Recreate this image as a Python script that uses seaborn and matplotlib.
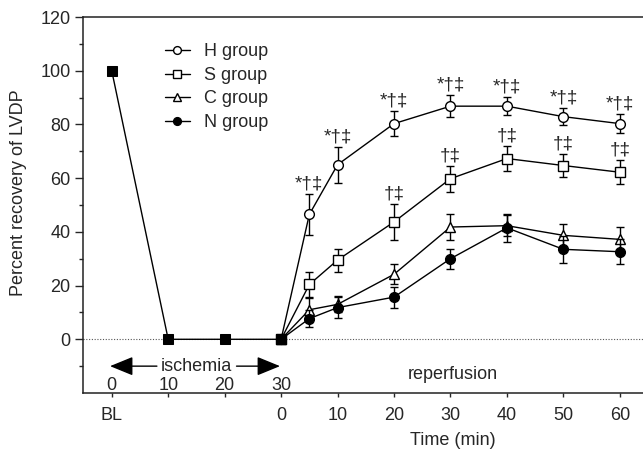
import numpy as np
import pandas as pd
import matplotlib
matplotlib.use('Agg')
import matplotlib.pyplot as plt
import seaborn as sns

# --- data ---
# baseline + ischemia phase (all groups identical)
base_time = [0, 10, 20, 30]            # BL, ischemia 10/20/30 min
base_vals = [100, 0, 0, 0]

# reperfusion phase, minutes after reperfusion
rep_time = [0, 5, 10, 20, 30, 40, 50, 60]

h_vals = [0, 46.5, 65.0, 80.3, 86.8, 86.8, 82.9, 80.3]
h_err = [0, 7.5, 6.7, 4.7, 4.2, 3.3, 3.2, 3.5]
s_vals = [0, 20.4, 29.5, 43.7, 59.8, 67.3, 64.7, 62.2]
s_err = [0, 4.5, 4.3, 6.6, 4.8, 4.5, 4.2, 4.5]
c_vals = [0, 11.0, 13.0, 24.2, 41.8, 42.3, 38.7, 37.2]
c_err = [0, 4.5, 3.0, 3.8, 4.7, 4.0, 4.4, 4.5]
n_vals = [0, 7.7, 11.8, 15.7, 30.0, 41.5, 33.5, 32.6]
n_err = [0, 3.2, 3.8, 3.9, 3.8, 5.2, 5.0, 4.7]

h_marks = ['', '*†‡', '*†‡', '*†‡', '*†‡', '*†‡', '*†‡', '*†‡']
s_marks = ['', '', '', '†‡', '†‡', '†‡', '†‡', '†‡']

isch_ticks = [0, 10, 20, 30]
rep_ticks = [0, 10, 20, 30, 40, 50, 60]

# --- style ---
sns.set_style('ticks')
plt.rcParams['font.family'] = ['Liberation Sans', 'DejaVu Sans']
plt.rcParams['font.size'] = 13

fig = plt.figure(figsize=(6.43, 4.51), dpi=100)
ax = fig.add_axes([0.129, 0.1286, 0.871, 0.8337])

ISCH_END = 30  # reperfusion 0 == ischemia 30 on the shared axis
rep_x = [ISCH_END + t for t in rep_time]

ax.axhline(0, color='#555555', lw=0.8, ls=(0, (1, 1.5)), zorder=0)

groups = [
    ('H group', h_vals, h_err, 'o', 'white'),
    ('S group', s_vals, s_err, 's', 'white'),
    ('C group', c_vals, c_err, '^', 'white'),
    ('N group', n_vals, n_err, 'o', 'black'),
]

for i, (name, vals, err, mk, fc) in enumerate(groups):
    ax.errorbar(rep_x[1:], vals[1:], yerr=err[1:], fmt='none', ecolor='black',
                elinewidth=1, capsize=3, capthick=1, zorder=2 + i)
    sns.lineplot(x=rep_x, y=vals, ax=ax, color='black', lw=1, marker=mk,
                 markersize=7 if mk != '^' else 7.5, markerfacecolor=fc,
                 markeredgecolor='black', markeredgewidth=1, label=name,
                 zorder=3 + i)

sns.lineplot(x=base_time, y=base_vals, ax=ax, color='black', lw=1, marker='s',
             markersize=6.5, markerfacecolor='black', markeredgecolor='black',
             zorder=10, legend=False)

# significance marks
for x, v, e, m in zip(rep_x, h_vals, h_err, h_marks):
    if m:
        ax.text(x, v + e + 0.6, m, ha='center', va='bottom', fontsize=13.5)
for x, v, e, m in zip(rep_x, s_vals, s_err, s_marks):
    if m:
        ax.text(x, v + e + 0.6, m, ha='center', va='bottom', fontsize=13.5)

# ischemia arrow and inner labels
arrow_kw = dict(arrowstyle='-|>,head_length=1.1,head_width=0.45', color='black', lw=1,
                shrinkA=0, shrinkB=0)
ax.annotate('', xy=(-0.3, -10), xytext=(8.0, -10), arrowprops=arrow_kw)
ax.annotate('', xy=(29.8, -10), xytext=(22.1, -10), arrowprops=arrow_kw)
ax.text(15, -10, 'ischemia', ha='center', va='center')
for t in isch_ticks:
    ax.text(t, -17.3, str(t), ha='center', va='center')
ax.text(60.5, -13, 'reperfusion', ha='center', va='center')

# axes
ax.set_xlim(-5.1, 94.1)
ax.set_ylim(-20, 120)
ax.set_yticks([0, 20, 40, 60, 80, 100, 120])
ax.set_yticks(np.arange(-10, 121, 10), minor=True)
xt = [0, 10, 20] + [ISCH_END + t for t in rep_ticks]
xl = ['BL', '', ''] + [str(t) for t in rep_ticks]
ax.set_xticks(xt)
ax.set_xticklabels(xl)
ax.tick_params(axis='y', which='major', length=6, width=1, direction='out', pad=3)
ax.tick_params(axis='y', which='minor', length=3, width=1, direction='out')
ax.tick_params(axis='x', which='major', length=3, width=1, direction='out', pad=7)

for side in ['left', 'bottom', 'top']:
    ax.spines[side].set_linewidth(1.1)
    ax.spines[side].set_color('#222222')
ax.spines['right'].set_visible(False)

ax.set_ylabel('Percent recovery of LVDP')
ax.yaxis.set_label_coords(-0.1, 0.532)
ax.set_xlabel('Time (min)')
ax.xaxis.set_label_coords(0.661, -0.105)

ax.legend(loc='upper left', bbox_to_anchor=(0.146, 0.93), frameon=False,
          borderpad=0, borderaxespad=0, handlelength=1.4, handletextpad=0.8,
          labelspacing=0.36, markerscale=0.8)

fig.savefig('out.png', dpi=100)
